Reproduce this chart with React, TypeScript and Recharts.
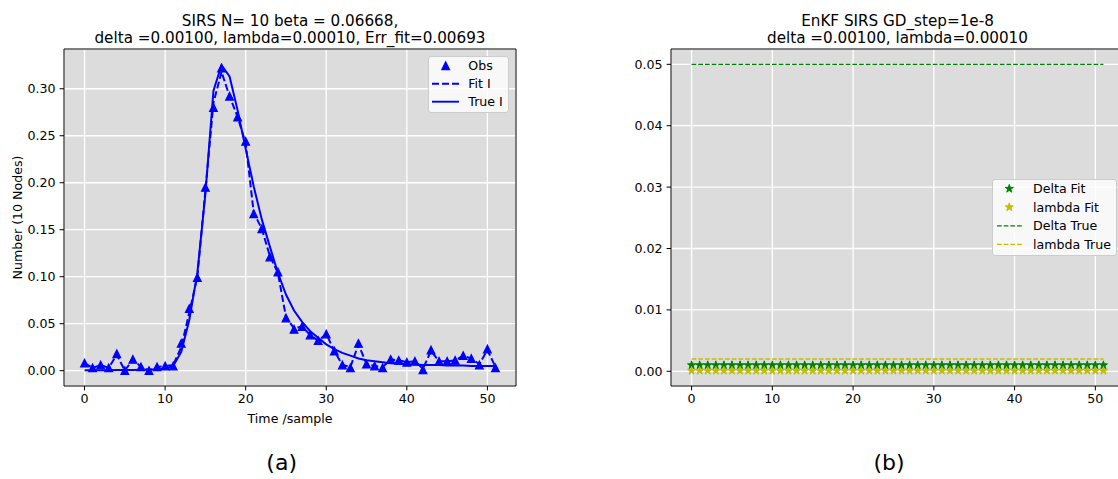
import React from 'react';
import { ComposedChart, Line, XAxis, YAxis, CartesianGrid, ReferenceArea, Legend } from 'recharts';

const FONT = '"DejaVu Sans", Verdana, sans-serif';

// ---------- data ----------
const timeSteps = [
  0, 1, 2, 3, 4, 5, 6, 7, 8, 9, 10, 11, 12, 13, 14, 15, 16, 17, 18, 19, 20, 21, 22, 23, 24, 25,
  26, 27, 28, 29, 30, 31, 32, 33, 34, 35, 36, 37, 38, 39, 40, 41, 42, 43, 44, 45, 46, 47, 48, 49, 50, 51,
];
const obsI = [
  0.008, 0.003, 0.006, 0.003, 0.018, 0.0, 0.012, 0.004, 0.0, 0.004, 0.005, 0.005, 0.029, 0.066, 0.099,
  0.195, 0.28, 0.322, 0.292, 0.27, 0.244, 0.167, 0.151, 0.121, 0.105, 0.056, 0.044, 0.047, 0.038, 0.032,
  0.039, 0.021, 0.006, 0.003, 0.029, 0.007, 0.005, 0.003, 0.012, 0.011, 0.009, 0.01, 0.001, 0.022, 0.01,
  0.01, 0.011, 0.016, 0.013, 0.006, 0.023, 0.003,
];
const fitI = [
  0.008, 0.003, 0.006, 0.003, 0.017, 0.0, 0.012, 0.004, 0.0, 0.004, 0.005, 0.006, 0.025, 0.062, 0.1,
  0.192, 0.285, 0.318, 0.292, 0.27, 0.242, 0.168, 0.151, 0.122, 0.104, 0.057, 0.045, 0.047, 0.038, 0.032,
  0.039, 0.021, 0.006, 0.004, 0.028, 0.007, 0.005, 0.004, 0.012, 0.011, 0.009, 0.01, 0.002, 0.021, 0.01,
  0.01, 0.011, 0.016, 0.013, 0.007, 0.022, 0.004,
];
const trueI = [
  0.0005, 0.0005, 0.0005, 0.0005, 0.0006, 0.0007, 0.0008, 0.001, 0.0012, 0.0015, 0.002, 0.005, 0.02,
  0.054, 0.104, 0.188, 0.298, 0.325, 0.313, 0.277, 0.236, 0.196, 0.161, 0.132, 0.104, 0.081, 0.064,
  0.052, 0.042, 0.035, 0.028, 0.023, 0.019, 0.016, 0.013, 0.011, 0.01, 0.009, 0.008, 0.0075, 0.007,
  0.0065, 0.006, 0.006, 0.006, 0.0055, 0.0055, 0.0055, 0.005, 0.005, 0.005, 0.005,
];
const deltaFit = [
  0.001, 0.001, 0.001, 0.001, 0.001, 0.001, 0.001, 0.001, 0.001, 0.001, 0.001, 0.001, 0.001, 0.001,
  0.001, 0.001, 0.001, 0.001, 0.001, 0.001, 0.001, 0.001, 0.001, 0.001, 0.001, 0.001, 0.001, 0.001,
  0.001, 0.001, 0.001, 0.001, 0.001, 0.001, 0.001, 0.001, 0.001, 0.001, 0.001, 0.001, 0.001, 0.001,
  0.001, 0.001, 0.001, 0.001, 0.001, 0.001, 0.001, 0.001, 0.001, 0.001,
];
const lambdaFit = [
  0.0001, 0.0001, 0.0001, 0.0001, 0.0001, 0.0001, 0.0001, 0.0001, 0.0001, 0.0001, 0.0001, 0.0001, 0.0001,
  0.0001, 0.0001, 0.0001, 0.0001, 0.0001, 0.0001, 0.0001, 0.0001, 0.0001, 0.0001, 0.0001, 0.0001, 0.0001,
  0.0001, 0.0001, 0.0001, 0.0001, 0.0001, 0.0001, 0.0001, 0.0001, 0.0001, 0.0001, 0.0001, 0.0001, 0.0001,
  0.0001, 0.0001, 0.0001, 0.0001, 0.0001, 0.0001, 0.0001, 0.0001, 0.0001, 0.0001, 0.0001, 0.0001, 0.0001,
];
const deltaTrue = [
  0.05, 0.05, 0.05, 0.05, 0.05, 0.05, 0.05, 0.05, 0.05, 0.05, 0.05, 0.05, 0.05, 0.05, 0.05, 0.05, 0.05,
  0.05, 0.05, 0.05, 0.05, 0.05, 0.05, 0.05, 0.05, 0.05, 0.05, 0.05, 0.05, 0.05, 0.05, 0.05, 0.05, 0.05,
  0.05, 0.05, 0.05, 0.05, 0.05, 0.05, 0.05, 0.05, 0.05, 0.05, 0.05, 0.05, 0.05, 0.05, 0.05, 0.05, 0.05, 0.05,
];
const lambdaTrue = [
  0.002, 0.002, 0.002, 0.002, 0.002, 0.002, 0.002, 0.002, 0.002, 0.002, 0.002, 0.002, 0.002, 0.002, 0.002,
  0.002, 0.002, 0.002, 0.002, 0.002, 0.002, 0.002, 0.002, 0.002, 0.002, 0.002, 0.002, 0.002, 0.002, 0.002,
  0.002, 0.002, 0.002, 0.002, 0.002, 0.002, 0.002, 0.002, 0.002, 0.002, 0.002, 0.002, 0.002, 0.002, 0.002,
  0.002, 0.002, 0.002, 0.002, 0.002, 0.002, 0.002,
];
const xTicks = [0, 10, 20, 30, 40, 50];
const leftYTicks = [0, 0.05, 0.1, 0.15, 0.2, 0.25, 0.3];
const rightYTicks = [0, 0.01, 0.02, 0.03, 0.04, 0.05];
const leftTitle = ['SIRS N= 10 beta = 0.06668,', 'delta =0.00100, lambda=0.00010, Err_fit=0.00693'];
const rightTitle = ['EnKF SIRS GD_step=1e-8', 'delta =0.00100, lambda=0.00010'];
const leftLegendLabels = ['Obs', 'Fit I', 'True I'];
const rightLegendLabels = ['Delta Fit', 'lambda Fit', 'Delta True', 'lambda True'];

// ---------- derived tables ----------
const leftData = timeSteps.map((t, i) => ({ t, obs: obsI[i], fit: fitI[i], trueI: trueI[i] }));
const rightData = timeSteps.map((t, i) => ({
  t,
  deltaFit: deltaFit[i],
  lambdaFit: lambdaFit[i],
  deltaTrue: deltaTrue[i],
  lambdaTrue: lambdaTrue[i],
}));

const X_DOMAIN: [number, number] = [-2.55, 53.55];
const LEFT_Y_DOMAIN: [number, number] = [-0.0163, 0.3423];
const RIGHT_Y_DOMAIN: [number, number] = [-0.002395, 0.052495];

const BLUE = '#0000ff';
const GREEN = '#008000';
const YELLOW = '#bfbf00';
const BG = '#dcdcdc';
const TICK_FS = 12.6;

const starPath = (cx: number, cy: number, r: number) => {
  const inner = r * 0.381966;
  let d = '';
  for (let k = 0; k < 10; k++) {
    const rad = k % 2 === 0 ? r : inner;
    const a = -Math.PI / 2 + (k * Math.PI) / 5;
    const px = cx + rad * Math.cos(a);
    const py = cy + rad * Math.sin(a);
    d += (k === 0 ? 'M' : 'L') + px.toFixed(2) + ',' + py.toFixed(2);
  }
  return d + 'Z';
};
const triPath = (cx: number, cy: number, s: number) =>
  `M${cx},${cy - s}L${cx - s},${cy + s}L${cx + s},${cy + s}Z`;

const makeTriangleDot = (color: string) => (props: any) => {
  const { cx, cy, index } = props;
  if (cx == null || cy == null) return <g key={`tri-${index}`} />;
  return <path key={`tri-${index}`} d={triPath(cx, cy, 3.8)} fill={color} stroke={color} strokeWidth={1.26} />;
};
const makeStarDot = (color: string, id: string) => (props: any) => {
  const { cx, cy, index } = props;
  if (cx == null || cy == null) return <g key={`${id}-${index}`} />;
  return <path key={`${id}-${index}`} d={starPath(cx, cy, 4.3)} fill={color} stroke={color} strokeWidth={1} />;
};

const boxStyle: React.CSSProperties = {
  width: '100%',
  height: '100%',
  boxSizing: 'border-box',
  background: 'rgba(255,255,255,0.8)',
  border: '1px solid #cccccc',
  borderRadius: 3,
};

const LeftLegend = () => (
  <div style={boxStyle}>
    <svg width={81} height={57} style={{ position: 'absolute', left: 0, top: 0 }}>
      <path d={triPath(17.7, 9.7, 3.8)} fill={BLUE} stroke={BLUE} strokeWidth={1.26} />
      <line x1={4} x2={31} y1={27.7} y2={27.7} stroke={BLUE} strokeWidth={1.9} strokeDasharray="7 3" />
      <line x1={4} x2={31} y1={45.7} y2={45.7} stroke={BLUE} strokeWidth={1.9} />
      {leftLegendLabels.map((l, i) => (
        <text key={l} x={40.3} y={9.7 + i * 18 + 4.5} fontSize={TICK_FS} fontFamily={FONT} fill="#000">
          {l}
        </text>
      ))}
    </svg>
  </div>
);

const RightLegend = () => (
  <div style={boxStyle}>
    <svg width={125} height={77} style={{ position: 'absolute', left: 0, top: 0 }}>
      <path d={starPath(17.3, 9.7, 4.3)} fill={GREEN} stroke={GREEN} strokeWidth={1} />
      <path d={starPath(17.3, 28.2, 4.3)} fill={YELLOW} stroke={YELLOW} strokeWidth={1} />
      <line x1={5} x2={30} y1={46.8} y2={46.8} stroke={GREEN} strokeWidth={1.3} strokeDasharray="4.7 2" />
      <line x1={5} x2={30} y1={65.4} y2={65.4} stroke={YELLOW} strokeWidth={1.3} strokeDasharray="4.7 2" />
      {rightLegendLabels.map((l, i) => (
        <text key={l} x={41} y={9.7 + i * 18.6 + 4.5} fontSize={TICK_FS} fontFamily={FONT} fill="#000">
          {l}
        </text>
      ))}
    </svg>
  </div>
);

const tickStyle = { fontSize: TICK_FS, fill: '#000', fontFamily: FONT };

export default function App() {
  return (
    <div
      style={{
        position: 'absolute',
        left: 0,
        top: 0,
        width: 1118,
        height: 479,
        overflow: 'hidden',
        background: '#ffffff',
        fontFamily: FONT,
      }}
    >
      {/* (a) */}
      <div style={{ position: 'absolute', left: 0, top: 0 }}>
        <ComposedChart width={530} height={479} data={leftData} margin={{ top: 49, right: 14, bottom: 63, left: 0 }}>
          <CartesianGrid fill={BG} fillOpacity={1} stroke="#ffffff" strokeWidth={1.3} />
          <XAxis
            dataKey="t"
            type="number"
            domain={X_DOMAIN}
            allowDataOverflow
            ticks={xTicks}
            height={30}
            tick={tickStyle}
            tickSize={4.4}
            tickMargin={4}
            axisLine={false}
            tickLine={{ stroke: '#000', strokeWidth: 1 }}
          />
          <YAxis
            type="number"
            domain={LEFT_Y_DOMAIN}
            allowDataOverflow
            ticks={leftYTicks}
            width={64}
            tick={tickStyle}
            tickFormatter={(v: number) => v.toFixed(2)}
            tickSize={4.4}
            tickMargin={4}
            axisLine={false}
            tickLine={{ stroke: '#000', strokeWidth: 1 }}
          />
          <Line
            dataKey="obs"
            stroke="none"
            isAnimationActive={false}
            dot={makeTriangleDot(BLUE)}
            activeDot={false}
          />
          <Line
            dataKey="fit"
            type="linear"
            stroke={BLUE}
            strokeWidth={2}
            strokeDasharray="7 3"
            dot={false}
            activeDot={false}
            isAnimationActive={false}
          />
          <Line
            dataKey="trueI"
            type="linear"
            stroke={BLUE}
            strokeWidth={2}
            dot={false}
            activeDot={false}
            isAnimationActive={false}
          />
          <ReferenceArea
            x1={X_DOMAIN[0]}
            x2={X_DOMAIN[1]}
            y1={LEFT_Y_DOMAIN[0]}
            y2={LEFT_Y_DOMAIN[1]}
            fill="none"
            fillOpacity={0}
            stroke="#000"
            strokeWidth={1}
            ifOverflow="visible"
          />
          <Legend
            layout="vertical"
            align="center"
            verticalAlign="middle"
            content={() => <LeftLegend />}
            wrapperStyle={{ left: 428, top: 56, width: 81, height: 57, margin: 0 }}
          />
        </ComposedChart>
      </div>

      {/* (b) */}
      <div style={{ position: 'absolute', left: 600, top: 0 }}>
        <ComposedChart width={530} height={479} data={rightData} margin={{ top: 49, right: 6, bottom: 63, left: 0 }}>
          <CartesianGrid fill={BG} fillOpacity={1} stroke="#ffffff" strokeWidth={1.3} />
          <XAxis
            dataKey="t"
            type="number"
            domain={X_DOMAIN}
            allowDataOverflow
            ticks={xTicks}
            height={30}
            tick={tickStyle}
            tickSize={4.4}
            tickMargin={4}
            axisLine={false}
            tickLine={{ stroke: '#000', strokeWidth: 1 }}
          />
          <YAxis
            type="number"
            domain={RIGHT_Y_DOMAIN}
            allowDataOverflow
            ticks={rightYTicks}
            width={71}
            tick={tickStyle}
            tickFormatter={(v: number) => v.toFixed(2)}
            tickSize={4.4}
            tickMargin={4}
            axisLine={false}
            tickLine={{ stroke: '#000', strokeWidth: 1 }}
          />
          <Line
            dataKey="deltaFit"
            stroke="none"
            isAnimationActive={false}
            dot={makeStarDot(GREEN, 'df')}
            activeDot={false}
          />
          <Line
            dataKey="lambdaFit"
            stroke="none"
            isAnimationActive={false}
            dot={makeStarDot(YELLOW, 'lf')}
            activeDot={false}
          />
          <Line
            dataKey="deltaTrue"
            type="linear"
            stroke={GREEN}
            strokeWidth={1.3}
            strokeDasharray="4.7 2"
            dot={false}
            activeDot={false}
            isAnimationActive={false}
          />
          <Line
            dataKey="lambdaTrue"
            type="linear"
            stroke={YELLOW}
            strokeWidth={1.3}
            strokeDasharray="4.7 2"
            dot={false}
            activeDot={false}
            isAnimationActive={false}
          />
          <ReferenceArea
            x1={X_DOMAIN[0]}
            x2={X_DOMAIN[1]}
            y1={RIGHT_Y_DOMAIN[0]}
            y2={RIGHT_Y_DOMAIN[1]}
            fill="none"
            fillOpacity={0}
            stroke="#000"
            strokeWidth={1}
            ifOverflow="visible"
          />
          <Legend
            layout="vertical"
            align="center"
            verticalAlign="middle"
            content={() => <RightLegend />}
            wrapperStyle={{ left: 391.7, top: 179.3, width: 125, height: 77, margin: 0 }}
          />
        </ComposedChart>
      </div>

      {/* text annotations */}
      <svg
        width={1118}
        height={479}
        style={{ position: 'absolute', left: 0, top: 0, pointerEvents: 'none' }}
        fontFamily={FONT}
      >
        <text x={290} y={25.5} textAnchor="middle" fontSize={15.2} fill="#000">{leftTitle[0]}</text>
        <text x={290} y={43} textAnchor="middle" fontSize={15.2} fill="#000">{leftTitle[1]}</text>
        <text x={897.5} y={25.5} textAnchor="middle" fontSize={15.2} fill="#000">{rightTitle[0]}</text>
        <text x={897.5} y={43} textAnchor="middle" fontSize={15.2} fill="#000">{rightTitle[1]}</text>
        <text x={290} y={422.5} textAnchor="middle" fontSize={TICK_FS} fill="#000">Time /sample</text>
        <text
          transform="translate(21.9,217.5) rotate(-90)"
          textAnchor="middle"
          fontSize={TICK_FS}
          fill="#000"
        >
          Number (10 Nodes)
        </text>
        <text x={281.7} y={470} textAnchor="middle" fontSize={22} fill="#000">(a)</text>
        <text x={889} y={470} textAnchor="middle" fontSize={22} fill="#000">(b)</text>
      </svg>
    </div>
  );
}
